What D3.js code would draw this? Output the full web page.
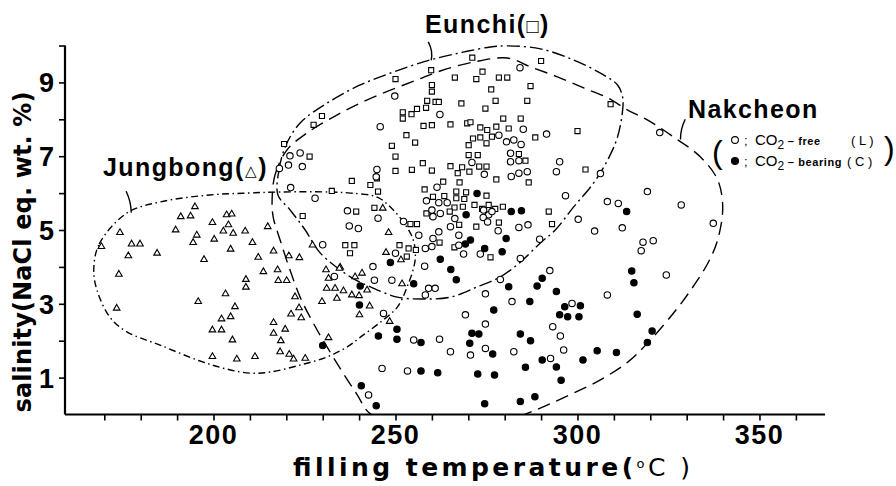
<!DOCTYPE html>
<meta charset="utf-8">
<style>
body { margin: 0; background: #fff; }
svg { display: block; }
text { font-family: "Liberation Sans", Arial, Helvetica, sans-serif; fill: #000; }
.bold { font-weight: bold; }
.title { font-family: "DejaVu Sans", sans-serif; font-weight: bold; }
.env { fill: none; stroke: #000; stroke-width: 1.4px; }
.mark { stroke: #000; stroke-width: 1.1px; }
</style>
<svg id="chart" width="896" height="486"></svg>
<script src="https://d3js.org/d3.v7.min.js"></script>
<script>

// filling temperature (°C), salinity (NaCl eq. wt. %)
var jungbong = [
  [169.2,4.55],[174.3,4.93],[177.5,4.62],[179.8,4.62],[176.6,4.30],[184.5,4.37],[174.0,3.80],[173.4,2.88],
  [194.9,5.63],[191.0,5.36],[193.7,5.38],[189.6,5.00],[195.4,4.86],[194.4,4.66],[199.7,5.20],[203.6,5.41],
  [205.0,5.43],[204.1,5.14],[202.7,4.97],[205.4,4.91],[200.2,4.75],[208.7,4.97],[204.7,4.48],[197.4,4.20],
  [210.7,4.66],[214.9,5.09],[216.5,4.43],[212.3,4.26],[220.7,4.30],[223.6,4.25],[213.7,3.87],[217.6,3.92],
  [217.8,3.63],[220.1,3.63],[208.9,3.66],[208.9,3.45],[203.3,3.27],[195.8,3.06],[205.9,2.92],[202.2,2.59],
  [204.7,2.65],[199.7,2.29],[202.2,2.29],[205.2,2.02],[199.7,1.57],[206.4,1.50],[211.4,1.57],[216.5,2.49],
  [216.5,2.20],[219.7,2.31],[218.5,2.00],[218.3,1.70],[220.8,1.63],[222.0,1.50],[225.2,1.52],[222.4,3.19],
  [221.3,2.72],[223.5,2.89],[224.1,2.62],[227.2,4.59],[230.9,3.92],[231.6,3.69],[234.8,3.99],[231.1,3.42],
  [233.4,3.42],[235.7,3.35],[238.0,3.24],[240.0,3.22],[229.8,3.06],[233.9,3.15],[238.9,3.73],[240.8,3.83],
  [242.2,3.37],[242.9,2.94],[240.1,2.70],[231.6,2.08],[246.5,5.59],[248.1,4.93],[247.4,4.39],[251.5,4.19],
  [251.8,3.54],[248.4,2.52],[234.6,3.96]
];

var eunchi = [
  [259.8,9.33],[271.1,9.67],[266.3,9.13],[272.2,9.09],[278.4,9.13],[280.7,9.13],[276.3,8.81],[287.1,8.90],
  [260.0,8.93],[260.0,8.75],[258.7,8.50],[261.0,8.47],[261.9,8.47],[268.1,8.43],[274.7,8.29],[277.5,8.50],
  [286.2,8.50],[252.0,8.19],[252.0,8.02],[254.4,8.14],[255.9,8.28],[258.4,8.31],[257.7,7.82],[260.0,7.84],
  [265.1,7.86],[269.7,7.89],[270.6,7.92],[273.3,7.78],[275.2,7.71],[277.7,7.80],[279.6,8.02],[284.4,8.02],
  [281.1,7.75],[250.0,9.09],[227.5,7.85],[229.8,8.09],[219.4,7.33],[226.4,6.99],[309.1,8.41],[290.0,9.58],
  [273.9,9.29],[224.5,5.38],[300.0,7.68],[302.2,6.64],[249.0,7.28],[250.0,6.99],[250.0,6.60],[244.9,6.40],
  [243.1,6.22],[245.2,6.04],[238.0,6.33],[232.5,6.06],[236.2,4.59],[238.7,4.59],[237.5,4.37],[239.2,5.50],
  [244.2,5.60],
  [253.0,7.57],[255.4,7.37],[271.3,7.48],[273.3,7.51],[275.0,7.35],[276.5,7.53],[270.1,7.30],[270.1,7.03],
  [272.6,7.03],[283.9,7.06],[285.7,6.88],[288.4,7.51],[254.5,6.63],[257.5,6.81],[260.0,6.61],[265.1,6.73],
  [268.3,6.70],[267.1,6.54],[270.3,6.58],[273.0,6.72],[275.0,6.72],[277.7,6.37],[286.6,6.29],[267.6,6.29],
  [263.1,6.31],[258.0,6.10],[260.3,5.90],[263.4,5.92],[266.7,6.04],[269.4,6.02],[266.7,5.86],[268.9,5.84],
  [275.0,5.93],[266.2,5.61],[268.5,5.63],[271.7,5.68],[273.8,5.57],[275.6,5.68],[277.4,5.57],[279.5,5.63],
  [264.9,5.50],[258.5,5.45],[260.2,5.38],[272.2,5.09],[278.4,5.20],[267.5,5.14],[292.1,5.50],[293.0,5.16],
  [251.1,4.59],[253.6,4.50],[255.6,4.46],[253.1,4.28],[262.1,4.66],[254.1,5.16],[255.9,5.16],[266.2,4.53],
  [276.1,4.26]
];

// Nakcheon, CO2-free (L)
var co2Free = [
  [284.2,9.40],[249.8,8.63],[245.8,7.80],[262.2,8.13],[285.1,7.73],[278.4,7.57],[291.5,7.60],[280.5,7.39],
  [282.5,7.44],[284.5,7.32],[281.6,7.08],[281.6,6.85],[283.9,6.88],[271.0,6.83],[274.4,6.51],[281.8,6.45],
  [283.9,6.54],[286.2,6.58],[295.1,6.85],[294.2,6.58],[306.3,6.53],[322.6,7.64],[319.2,6.04],[328.5,5.68],
  [296.7,5.93],[308.2,5.77],[311.2,5.72],[300.2,5.29],[304.7,4.97],[312.3,5.06],[318.0,4.67],[320.8,4.71],
  [317.5,4.44],[337.3,5.18],[324.4,3.78],[308.2,3.24],[298.5,3.01],[293.2,2.38],[295.3,2.13],[296.2,1.75],
  [292.6,1.52],[292.4,3.90],
  [261.4,6.16],[258.5,5.79],[260.0,5.54],[261.9,5.74],[262.3,5.45],[260.3,5.36],[264.2,5.74],[266.3,5.31],
  [265.1,5.09],[267.4,4.86],[274.2,5.54],[275.6,5.41],[274.1,5.34],[276.5,5.50],[275.3,5.22],[278.2,4.98],
  [283.9,5.07],[286.4,5.14],[289.6,4.75],[252.2,5.23],[256.4,4.86],[260.3,4.77],[261.9,4.95],[258.2,4.50],
  [260.0,4.55],[268.7,4.35],[267.4,4.59],[273.3,4.35],[284.3,4.23],
  [221.0,7.01],[223.8,7.09],[220.6,6.76],[224.4,6.72],[218.1,6.67],[221.2,6.15],[227.9,5.86],[244.9,6.64],
  [244.7,6.44],[236.8,5.52],[237.3,5.11],[239.8,5.04],[245.2,5.32],[230.0,4.60],[233.2,3.74],[243.8,4.01],
  [244.2,3.64],[249.0,3.64],[250.0,4.37],
  [258.0,4.02],[259.1,3.42],[260.9,3.42],[258.2,3.24],[246.7,2.74],[255.0,2.02],[262.1,2.04],[246.3,1.25],
  [253.3,1.18],[242.6,0.53],[278.8,3.66],[274.7,3.27],[269.2,2.70],[274.7,2.45],[265.1,1.70],[270.6,1.61],
  [274.7,1.79],[282.5,1.70],[282.0,3.06]
];

// Nakcheon, CO2-bearing (C)
var co2Bearing = [
  [240.3,3.48],[240.1,2.97],[248.6,4.12],[255.0,3.54],[250.4,2.31],[250.4,2.04],[245.3,2.13],[257.0,1.95],
  [230.0,1.87],[257.0,1.18],[261.6,1.13],[240.6,0.78],[244.7,0.24],[272.4,5.99],[269.4,5.41],[269.2,4.62],
  [270.6,4.73],[274.5,4.50],[279.3,4.41],[262.3,4.21],[265.2,3.93],[266.7,3.65],[280.4,4.77],[281.8,5.50],
  [284.6,5.52],[281.1,3.46],[286.9,3.06],[288.9,3.48],[290.3,3.69],[277.0,2.83],[271.0,2.20],[272.9,2.18],
  [270.4,1.93],[276.7,1.64],[284.3,2.18],[287.1,2.00],[285.7,1.28],[290.3,1.48],[272.6,1.10],[277.2,1.07],
  [274.5,0.29],[284.3,0.35],[288.3,0.48],[313.5,5.50],[314.9,3.89],[315.5,3.57],[316.4,2.72],[320.5,2.26],
  [319.2,1.95],[294.2,3.33],[296.5,2.92],[300.8,2.95],[295.1,2.70],[297.3,2.65],[300.4,2.65],[294.2,1.29],
  [295.5,0.93],[301.5,1.48],[305.4,1.73],[310.7,1.68]
];

// hand-drawn envelopes
var jungbongEnv = [
  [167.1,3.92],[168.6,4.62],[176.2,5.46],[185.3,5.76],[199.0,5.95],[209.2,6.00],[218.3,6.03],[232.0,6.03],
  [237.6,6.00],[245.0,5.89],[249.4,5.54],[252.7,5.14],[254.9,4.73],[255.4,4.19],[253.2,3.46],[250.5,2.91],
  [246.6,2.56],[241.1,2.15],[236.7,1.83],[231.2,1.56],[223.8,1.34],[215.5,1.15],[210.0,1.12],[203.7,1.23],
  [196.3,1.45],[185.3,1.88],[176.2,2.24],[171.5,2.64],[168.0,3.37]
];

var eunchiEnv = [
  [217.7,5.95],[218.0,6.63],[219.9,7.30],[223.8,7.90],[231.2,8.44],[240.3,8.93],[249.4,9.28],[259.6,9.61],
  [268.6,9.82],[276.1,9.96],[280.7,9.99],[289.8,9.91],[298.9,9.61],[306.3,9.25],[311.0,8.93],[312.4,8.60],
  [312.4,8.25],[311.0,7.52],[308.3,6.90],[304.4,6.27],[298.9,5.62],[293.9,5.00],[289.8,4.65],[284.3,4.13],
  [278.8,3.73],[272.5,3.46],[265.1,3.18],[257.6,3.13],[250.5,3.18],[243.1,3.46],[237.6,3.73],[229.3,4.38],
  [225.2,5.00],[221.0,5.55]
];

var nakcheonEnv = [
  [216.1,5.81],[216.9,6.49],[220.2,7.17],[225.7,7.63],[232.9,8.06],[240.3,8.44],[248.6,8.79],[256.0,9.07],
  [262.3,9.31],[271.4,9.55],[280.7,9.66],[287.1,9.42],[294.5,9.15],[301.7,8.85],[308.3,8.58],[313.8,8.25],
  [319.3,7.98],[326.4,7.52],[333.8,6.98],[338.5,6.36],[339.9,5.62],[338.5,4.73],[335.8,4.10],[331.1,3.37],
  [326.4,2.75],[319.3,1.94],[313.8,1.42],[306.3,0.94],[298.9,0.58],[291.8,0.26],[285.7,0.01],[278.8,-0.25],
  [262.3,-0.35],[248.6,-0.25],[242.5,0.07],[239.5,0.53],[235.6,1.12],[231.2,1.83],[227.4,2.48],[223.8,3.18],
  [221.0,3.92],[218.3,4.73],[216.4,5.35]
];

var xTicks = d3.range(170, 361, 10);
var xLabels = [200, 250, 300, 350];
var yTicks = d3.range(1, 11);
var yLabels = [1, 3, 5, 7, 9];

var svg = d3.select("#chart");

var x = d3.scaleLinear().domain([159.2, 368]).range([65, 825]);
var y = d3.scaleLinear().domain([0, 10]).range([414.5, 45.5]);

svg.append("defs").append("clipPath").attr("id", "plot")
  .append("rect").attr("x", 65).attr("y", 0).attr("width", 780).attr("height", y(0));

var line = d3.line()
    .x(function(d) { return x(d[0]); })
    .y(function(d) { return y(d[1]); })
    .curve(d3.curveCatmullRomClosed.alpha(0.5));

var envs = svg.append("g").attr("clip-path", "url(#plot)");
envs.append("path").datum(jungbongEnv).attr("class", "env")
    .attr("stroke-dasharray", "7,3.5,1.5,3.5").attr("d", line);
envs.append("path").datum(eunchiEnv).attr("class", "env")
    .attr("stroke-dasharray", "13,4,2,4").attr("d", line);
envs.append("path").datum(nakcheonEnv).attr("class", "env")
    .attr("stroke-dasharray", "13,7").attr("d", line);

// label pointers
var hook = function(t0, s0, t1, s1, bend) {
  var x0 = x(t0), y0 = y(s0), x1 = x(t1), y1 = y(s1);
  return "M" + x0 + "," + y0 + " Q" + (x0 + bend) + "," + ((y0 + y1) / 2) + " " + x1 + "," + y1;
};
svg.append("path").attr("class", "env").attr("d", hook(176.0, 6.05, 177.4, 5.47, 5));
svg.append("path").attr("class", "env").attr("d", hook(259.0, 10.1, 259.8, 9.6, 5));
svg.append("path").attr("class", "env").attr("d", hook(329.6, 8.0, 328.3, 7.45, -5));

// points
var pts = svg.append("g");
pts.selectAll(".tri").data(jungbong).enter().append("path")
    .attr("class", "mark tri")
    .attr("d", d3.symbol().type(d3.symbolTriangle).size(19))
    .attr("fill", "#fff")
    .attr("transform", function(d) { return "translate(" + x(d[0]) + "," + y(d[1]) + ")"; });
pts.selectAll(".sq").data(eunchi).enter().append("path")
    .attr("class", "mark sq")
    .attr("d", d3.symbol().type(d3.symbolSquare).size(26))
    .attr("fill", "#fff")
    .attr("transform", function(d) { return "translate(" + x(d[0]) + "," + y(d[1]) + ")"; });
pts.selectAll(".free").data(co2Free).enter().append("circle")
    .attr("class", "mark free")
    .attr("cx", function(d) { return x(d[0]); })
    .attr("cy", function(d) { return y(d[1]); })
    .attr("r", 3.2)
    .attr("fill", "#fff");
pts.selectAll(".bear").data(co2Bearing).enter().append("circle")
    .attr("class", "mark bear")
    .attr("cx", function(d) { return x(d[0]); })
    .attr("cy", function(d) { return y(d[1]); })
    .attr("r", 3.2)
    .attr("fill", "#000");

// axes
var xAxis = svg.append("g").attr("transform", "translate(0," + y(0) + ")")
    .call(d3.axisBottom(x).tickValues(xTicks).tickSize(6).tickFormat(""));
var yAxis = svg.append("g").attr("transform", "translate(65,0)")
    .call(d3.axisLeft(y).tickValues(yTicks).tickSize(6).tickFormat(""));
[xAxis, yAxis].forEach(function(a) {
  a.select(".domain").attr("stroke-width", 2.2);
  a.selectAll(".tick line").attr("stroke-width", 1.6);
});
xAxis.select(".domain").attr("d", "M65,0H825");
yAxis.select(".domain").attr("d", "M0," + y(0) + "V" + y(10));

svg.selectAll(".xl").data(xLabels).enter().append("text")
    .attr("class", "bold").attr("x", function(d) { return x(d); }).attr("y", 444)
    .attr("text-anchor", "middle").style("font-size", "27px").style("letter-spacing", "1.5px")
    .text(function(d) { return d; });
svg.selectAll(".yl").data(yLabels).enter().append("text")
    .attr("class", "bold").attr("x", 54).attr("y", function(d) { return y(d) + 10; })
    .attr("text-anchor", "end").style("font-size", "27px")
    .text(function(d) { return d; });

var xt = svg.append("text").attr("class", "title")
    .attr("x", 293).attr("y", 476)
    .attr("textLength", 397).attr("lengthAdjust", "spacing")
    .style("font-size", "25px");
xt.append("tspan").text("filling temperature(");
xt.append("tspan").attr("dy", -8).style("font-size", "13px").style("font-weight", "normal").text("o");
xt.append("tspan").attr("dy", 8).style("font-weight", "normal").text("C )");

svg.append("text").attr("class", "title")
    .attr("transform", "translate(31,252) rotate(-90)")
    .attr("text-anchor", "middle")
    .attr("textLength", 321).attr("lengthAdjust", "spacing")
    .style("font-size", "24px")
    .text("salinity(NaCl eq. wt. %)");

// group labels
var lab = function(tx, px, py, sym, symSize) {
  var t = svg.append("text").attr("class", "bold").attr("x", px).attr("y", py)
      .style("font-size", "25px").style("letter-spacing", "1.4px");
  t.append("tspan").text(tx + "(");
  t.append("tspan").style("font-size", symSize).style("font-weight", "normal").text(sym);
  t.append("tspan").text(")");
};
lab("Jungbong", 103, 176, "△", "15px");
lab("Eunchi", 425, 33, "□", "20px");
svg.append("text").attr("class", "bold").attr("x", 688).attr("y", 118)
    .style("font-size", "25px").style("letter-spacing", "1.4px").text("Nakcheon");

// legend
svg.append("text").attr("x", 712).attr("y", 163).style("font-size", "32px").text("(");
svg.append("text").attr("x", 884).attr("y", 159).style("font-size", "32px").text(")");
svg.append("circle").attr("class", "mark").attr("cx", 735).attr("cy", 140).attr("r", 3.4).attr("fill", "#fff");
svg.append("circle").attr("class", "mark").attr("cx", 735).attr("cy", 161).attr("r", 3.5).attr("fill", "#000");

var legend = function(py, word, cx, cl) {
  var t = svg.append("text").attr("x", 744).attr("y", py).style("font-size", "13px");
  t.append("tspan").text(";");
  t.append("tspan").attr("x", 755).style("font-size", "15px").text("CO");
  t.append("tspan").attr("dy", 4).style("font-size", "12px").text("2");
  t.append("tspan").attr("dy", -4).style("font-weight", "bold").style("font-size", "11px")
      .style("letter-spacing", "0.6px").text(" – " + word);
  t.append("tspan").attr("x", cx).style("font-size", "13px").text(cl);
};
legend(145, "free", 851, "( L )");
legend(166, "bearing", 847, "( C )");

</script>
